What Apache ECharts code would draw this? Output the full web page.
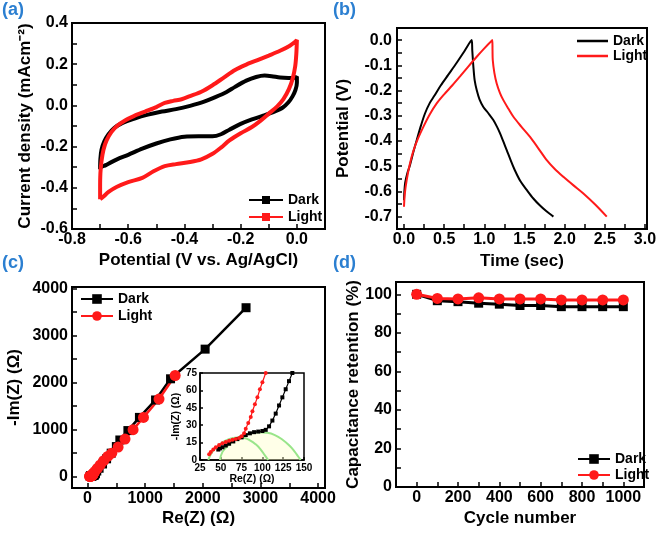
<!DOCTYPE html>
<html><head><meta charset="utf-8">
<script src="https://cdn.jsdelivr.net/npm/echarts@6/dist/echarts.min.js"></script>
<style>html,body{margin:0;padding:0;background:#fff}#c{width:661px;height:533px}</style>
</head><body><div id="c"></div>
<script>
// ---------- (a) cyclic voltammetry ----------
const cvDark = [[-0.700,-0.310],[-0.699,-0.260],[-0.695,-0.215],[-0.685,-0.175],[-0.670,-0.140],[-0.650,-0.110],[-0.620,-0.085],[-0.580,-0.065],[-0.530,-0.045],[-0.480,-0.030],[-0.430,-0.018],[-0.380,-0.002],[-0.330,0.018],[-0.290,0.040],[-0.250,0.065],[-0.220,0.090],[-0.180,0.120],[-0.145,0.138],[-0.115,0.145],[-0.090,0.142],[-0.060,0.135],[-0.030,0.133],[-0.008,0.134],[0.000,0.140],[0.000,0.110],[-0.005,0.075],[-0.015,0.045],[-0.030,0.015],[-0.050,-0.010],[-0.080,-0.030],[-0.120,-0.050],[-0.160,-0.068],[-0.200,-0.090],[-0.240,-0.118],[-0.270,-0.140],[-0.300,-0.150],[-0.350,-0.150],[-0.400,-0.152],[-0.450,-0.165],[-0.500,-0.185],[-0.550,-0.210],[-0.600,-0.240],[-0.640,-0.262],[-0.680,-0.290],[-0.700,-0.305],[-0.700,-0.310]];
const cvLight = [[-0.700,-0.455],[-0.700,-0.400],[-0.699,-0.330],[-0.695,-0.270],[-0.688,-0.215],[-0.677,-0.170],[-0.660,-0.130],[-0.640,-0.100],[-0.610,-0.072],[-0.580,-0.052],[-0.540,-0.030],[-0.500,-0.008],[-0.470,0.012],[-0.440,0.022],[-0.410,0.030],[-0.380,0.045],[-0.340,0.066],[-0.300,0.098],[-0.260,0.135],[-0.220,0.172],[-0.180,0.198],[-0.140,0.220],[-0.100,0.242],[-0.060,0.265],[-0.025,0.290],[-0.005,0.310],[0.000,0.318],[-0.002,0.250],[-0.006,0.190],[-0.015,0.130],[-0.028,0.080],[-0.048,0.030],[-0.070,-0.005],[-0.100,-0.040],[-0.130,-0.075],[-0.160,-0.105],[-0.200,-0.135],[-0.240,-0.170],[-0.270,-0.205],[-0.300,-0.235],[-0.340,-0.262],[-0.380,-0.275],[-0.430,-0.285],[-0.470,-0.295],[-0.510,-0.320],[-0.550,-0.352],[-0.600,-0.372],[-0.640,-0.395],[-0.670,-0.420],[-0.690,-0.445],[-0.700,-0.455]];

// ---------- (b) charge / discharge ----------
const gcdDark = [[0.000,-0.635],[0.005,-0.600],[0.015,-0.565],[0.040,-0.530],[0.075,-0.495],[0.120,-0.440],[0.160,-0.395],[0.210,-0.340],[0.260,-0.292],[0.320,-0.250],[0.380,-0.220],[0.457,-0.180],[0.550,-0.138],[0.656,-0.090],[0.750,-0.045],[0.843,0.000],[0.850,-0.040],[0.864,-0.106],[0.880,-0.160],[0.905,-0.198],[0.940,-0.235],[0.988,-0.265],[1.050,-0.290],[1.112,-0.317],[1.160,-0.345],[1.196,-0.370],[1.240,-0.405],[1.280,-0.437],[1.330,-0.478],[1.380,-0.516],[1.450,-0.560],[1.530,-0.595],[1.610,-0.628],[1.690,-0.655],[1.770,-0.678],[1.860,-0.700]];
const gcdLight = [[0.000,-0.661],[0.010,-0.610],[0.033,-0.556],[0.070,-0.495],[0.116,-0.440],[0.175,-0.390],[0.241,-0.344],[0.320,-0.295],[0.407,-0.251],[0.500,-0.215],[0.600,-0.180],[0.700,-0.143],[0.800,-0.105],[0.900,-0.068],[1.000,-0.033],[1.100,0.000],[1.102,-0.040],[1.105,-0.079],[1.125,-0.130],[1.154,-0.172],[1.195,-0.210],[1.237,-0.238],[1.300,-0.272],[1.362,-0.304],[1.460,-0.343],[1.569,-0.384],[1.670,-0.428],[1.777,-0.476],[1.880,-0.512],[1.984,-0.542],[2.110,-0.576],[2.233,-0.608],[2.380,-0.652],[2.524,-0.700]];

// ---------- (c) Nyquist ----------
const eisDark = [[47,9],[49,10],[52,11],[56,12.5],[60,14],[65,16],[70,18],[75,19.5],[80,21.5],[85,23],[90,24],[95,24.5],[100,25],[104,26],[108,29],[112,34],[116,40],[120,47],[124,54],[128,61],[132,68],[136,75],[160,120],[200,180],[260,270],[330,380],[410,500],[500,640],[560,780],[700,980],[900,1260],[1180,1630],[1440,2080],[2040,2710],[2750,3590]];
const eisLight = [[36,5],[38,7],[41,9],[44,11],[48,13],[52,14.5],[56,15.5],[60,16.5],[64,17.5],[68,18],[72,19],[75,20.5],[78,23],[80,27],[83,32],[86,37],[88,42],[91,48],[94,54],[97,61],[100,67],[104,75],[130,115],[170,175],[220,250],[280,340],[350,430],[420,500],[530,630],[650,800],[790,1000],[970,1260],[1240,1650],[1520,2150]];
const fitArc1 = [[35,0],[38,5],[42,9],[48,13],[55,16.5],[62,18.5],[70,19.5],[78,19],[85,17],[92,13.5],[98,9],[103,4],[107,0]];
const fitArc2 = [[49,0],[52,7],[58,12],[65,16.5],[75,20.5],[85,23],[95,24],[105,23.5],[115,21.5],[125,17],[133,12],[139,7],[143,3],[146,0]];

// ---------- (d) cycling ----------
const cycles = [0,100,200,300,400,500,600,700,800,900,1000];
const retDark = [100,96.7,96.2,95.4,94.9,94.2,94.2,93.6,93.6,93.6,93.6];
const retLight = [100,97.9,97.6,98.2,97.6,97.6,97.6,97.1,97.1,97.1,97.1];

// ---------- tick labels ----------
const ticksAX = [-0.8,-0.6,-0.4,-0.2,0];
const ticksAY = [-0.6,-0.4,-0.2,0,0.2,0.4];
const ticksBX = [0,0.5,1,1.5,2,2.5,3];
const ticksBY = [0,-0.1,-0.2,-0.3,-0.4,-0.5,-0.6,-0.7];
const ticksCX = [0,1000,2000,3000,4000];
const ticksCY = [0,1000,2000,3000,4000];
const ticksDX = [0,200,400,600,800,1000];
const ticksDY = [0,20,40,60,80,100];
const ticksInX = [25,50,75,100,125,150];
const ticksInY = [0,15,30,45,60,75];

const FONT = 'Arial, "Liberation Sans", sans-serif';
const f1 = v => v.toFixed(1);
const f0 = v => String(Math.round(v));
function withMinor(t){const s=t.slice().sort((a,b)=>a-b);const out=[];for(let i=0;i<s.length;i++){out.push(s[i]);if(i<s.length-1)out.push((s[i]+s[i+1])/2);}return out;}

function ax(gi, pos, min, max, labels, fmt, name, nameGap, o) {
  o = o || {};
  return {
    type:'value', gridIndex:gi, position:pos, min, max,
    axisLine:{show:true, onZero:false, lineStyle:{color:'#000', width:o.lw||2}},
    axisTick:{show:true, inside:true, length:o.tl||5, customValues:o.noMinor?labels:withMinor(labels), lineStyle:{color:'#000', width:1.5}},
    axisLabel:{show:true, customValues:labels, formatter:fmt, color:'#000', fontSize:o.fs||16, fontWeight:'bold', fontFamily:FONT, margin:o.margin||4},
    splitLine:{show:false},
    name, nameLocation:'middle', nameGap,
    nameTextStyle:{color:'#000', fontSize:o.nfs||17, fontWeight:'bold', fontFamily:FONT}
  };
}
const legText = {fontSize:14, fontWeight:'bold', fontFamily:FONT, color:'#000'};

const gridBase = {show:true, borderColor:'#000', borderWidth:2, containLabel:false};
const option = {
  animation:false,
  backgroundColor:'#fff',
  grid:[
    Object.assign({left:72, top:23, width:253, height:206}, gridBase),
    Object.assign({left:397, top:28, width:250, height:201}, gridBase),
    Object.assign({left:72, top:287, width:253, height:201}, gridBase),
    Object.assign({left:396, top:282, width:248, height:205}, gridBase),
    {show:true, left:200, top:373, width:104, height:87, borderColor:'#000', borderWidth:1.5, backgroundColor:'#fff'}
  ],
  xAxis:[
    ax(0,'bottom',-0.8,0.1,ticksAX,f1,'Potential (V vs. Ag/AgCl)',23,{margin:3}),
    ax(1,'bottom',-0.087,3.025,ticksBX,f1,'Time (sec)',24,{margin:3}),
    ax(2,'bottom',-270,4120,ticksCX,f0,'Re(Z) (\u03A9)',22,{margin:3}),
    ax(3,'bottom',-100,1100,ticksDX,f0,'Cycle number',23,{margin:3}),
    ax(4,'bottom',25,150,ticksInX,f0,'Re(Z) (\u03A9)',13,{fs:10,nfs:10.5,margin:3,tl:3,lw:1.5,noMinor:true})
  ],
  yAxis:[
    ax(0,'left',-0.6,0.4,ticksAY,f1,'Current density (mAcm\u207B\u00B2)',38),
    ax(1,'left',-0.749,0.048,ticksBY,f1,'Potential (V)',45,{margin:5}),
    ax(2,'left',-240,4030,ticksCY,f0,'-Im(Z) (\u03A9)',49),
    ax(3,'left',0,106.4,ticksDY,f0,'Capacitance retention (%)',32),
    ax(4,'left',0,75,ticksInY,f0,'-Im(Z) (\u03A9)',14,{fs:10,nfs:10.5,margin:3,tl:3,lw:1.5,noMinor:true})
  ],
  legend:[
    {data:['a_Dark','a_Light'], left:243, top:188, orient:'vertical', itemWidth:34, itemHeight:10, itemGap:3, formatter:n=>n.slice(2), textStyle:legText},
    {data:[{name:'b_Dark', icon:'rect'},{name:'b_Light', icon:'rect'}], left:572, top:29, orient:'vertical', itemWidth:31, itemHeight:2.5, itemGap:1, formatter:n=>n.slice(2), textStyle:legText},
    {data:['c_Dark','c_Light'], left:75, top:287, orient:'vertical', itemWidth:32, itemHeight:12, itemGap:3, formatter:n=>n.slice(2), textStyle:legText},
    {data:['d_Dark','d_Light'], left:572, top:447, orient:'vertical', itemWidth:32, itemHeight:12, itemGap:2, formatter:n=>n.slice(2), textStyle:legText}
  ],
  graphic:[
    {type:'text', left:2, top:1, style:{text:'(a)', fill:'#2b7fd1', font:'bold 18px Arial, "Liberation Sans"'}},
    {type:'text', left:333, top:1, style:{text:'(b)', fill:'#2b7fd1', font:'bold 18px Arial, "Liberation Sans"'}},
    {type:'text', left:2, top:254, style:{text:'(c)', fill:'#2b7fd1', font:'bold 18px Arial, "Liberation Sans"'}},
    {type:'text', left:333, top:254, style:{text:'(d)', fill:'#2b7fd1', font:'bold 18px Arial, "Liberation Sans"'}}
  ],
  series:[
    {type:'line', name:'a_Dark', xAxisIndex:0, yAxisIndex:0, data:cvDark, smooth:0.3, showSymbol:false, symbol:'rect', symbolSize:7, lineStyle:{color:'#000', width:4}, itemStyle:{color:'#000'}},
    {type:'line', name:'a_Light', xAxisIndex:0, yAxisIndex:0, data:cvLight, smooth:0.3, showSymbol:false, symbol:'rect', symbolSize:7, lineStyle:{color:'#ff1a1a', width:4}, itemStyle:{color:'#ff1a1a'}},
    {type:'line', name:'b_Dark', xAxisIndex:1, yAxisIndex:1, data:gcdDark, smooth:0.3, showSymbol:false, symbol:'none', lineStyle:{color:'#000', width:2}, itemStyle:{color:'#000'}},
    {type:'line', name:'b_Light', xAxisIndex:1, yAxisIndex:1, data:gcdLight, smooth:0.3, showSymbol:false, symbol:'none', lineStyle:{color:'#ff1a1a', width:2}, itemStyle:{color:'#ff1a1a'}},
    {type:'line', name:'c_Dark', xAxisIndex:2, yAxisIndex:2, data:eisDark, symbol:'rect', symbolSize:9, lineStyle:{color:'#000', width:2.5}, itemStyle:{color:'#000'}},
    {type:'line', name:'c_Light', xAxisIndex:2, yAxisIndex:2, data:eisLight, symbol:'circle', symbolSize:11, lineStyle:{color:'#ff1a1a', width:2.5}, itemStyle:{color:'#ff1a1a'}},
    {type:'line', name:'fit1', xAxisIndex:4, yAxisIndex:4, data:fitArc1, smooth:true, showSymbol:false, lineStyle:{color:'#99e58a', width:2}, z:1},
    {type:'line', name:'fit2', xAxisIndex:4, yAxisIndex:4, data:fitArc2, smooth:true, showSymbol:false, lineStyle:{color:'#99e58a', width:2}, areaStyle:{color:'rgba(255,255,200,0.6)'}, z:1},
    {type:'line', name:'in_Dark', xAxisIndex:4, yAxisIndex:4, data:eisDark, symbol:'rect', symbolSize:4, lineStyle:{color:'#000', width:1.2}, itemStyle:{color:'#000'}},
    {type:'line', name:'in_Light', xAxisIndex:4, yAxisIndex:4, data:eisLight, symbol:'circle', symbolSize:4, lineStyle:{color:'#ff1a1a', width:1.2}, itemStyle:{color:'#ff1a1a'}},
    {type:'line', name:'d_Dark', xAxisIndex:3, yAxisIndex:3, data:cycles.map((c,i)=>[c,retDark[i]]), symbol:'rect', symbolSize:9, lineStyle:{color:'#000', width:3}, itemStyle:{color:'#000'}},
    {type:'line', name:'d_Light', xAxisIndex:3, yAxisIndex:3, data:cycles.map((c,i)=>[c,retLight[i]]), symbol:'circle', symbolSize:11, lineStyle:{color:'#ff1a1a', width:3}, itemStyle:{color:'#ff1a1a'}}
  ]
};
const chart = echarts.init(document.getElementById('c'), null, {renderer:'canvas'});
chart.setOption(option);
</script></body></html>
